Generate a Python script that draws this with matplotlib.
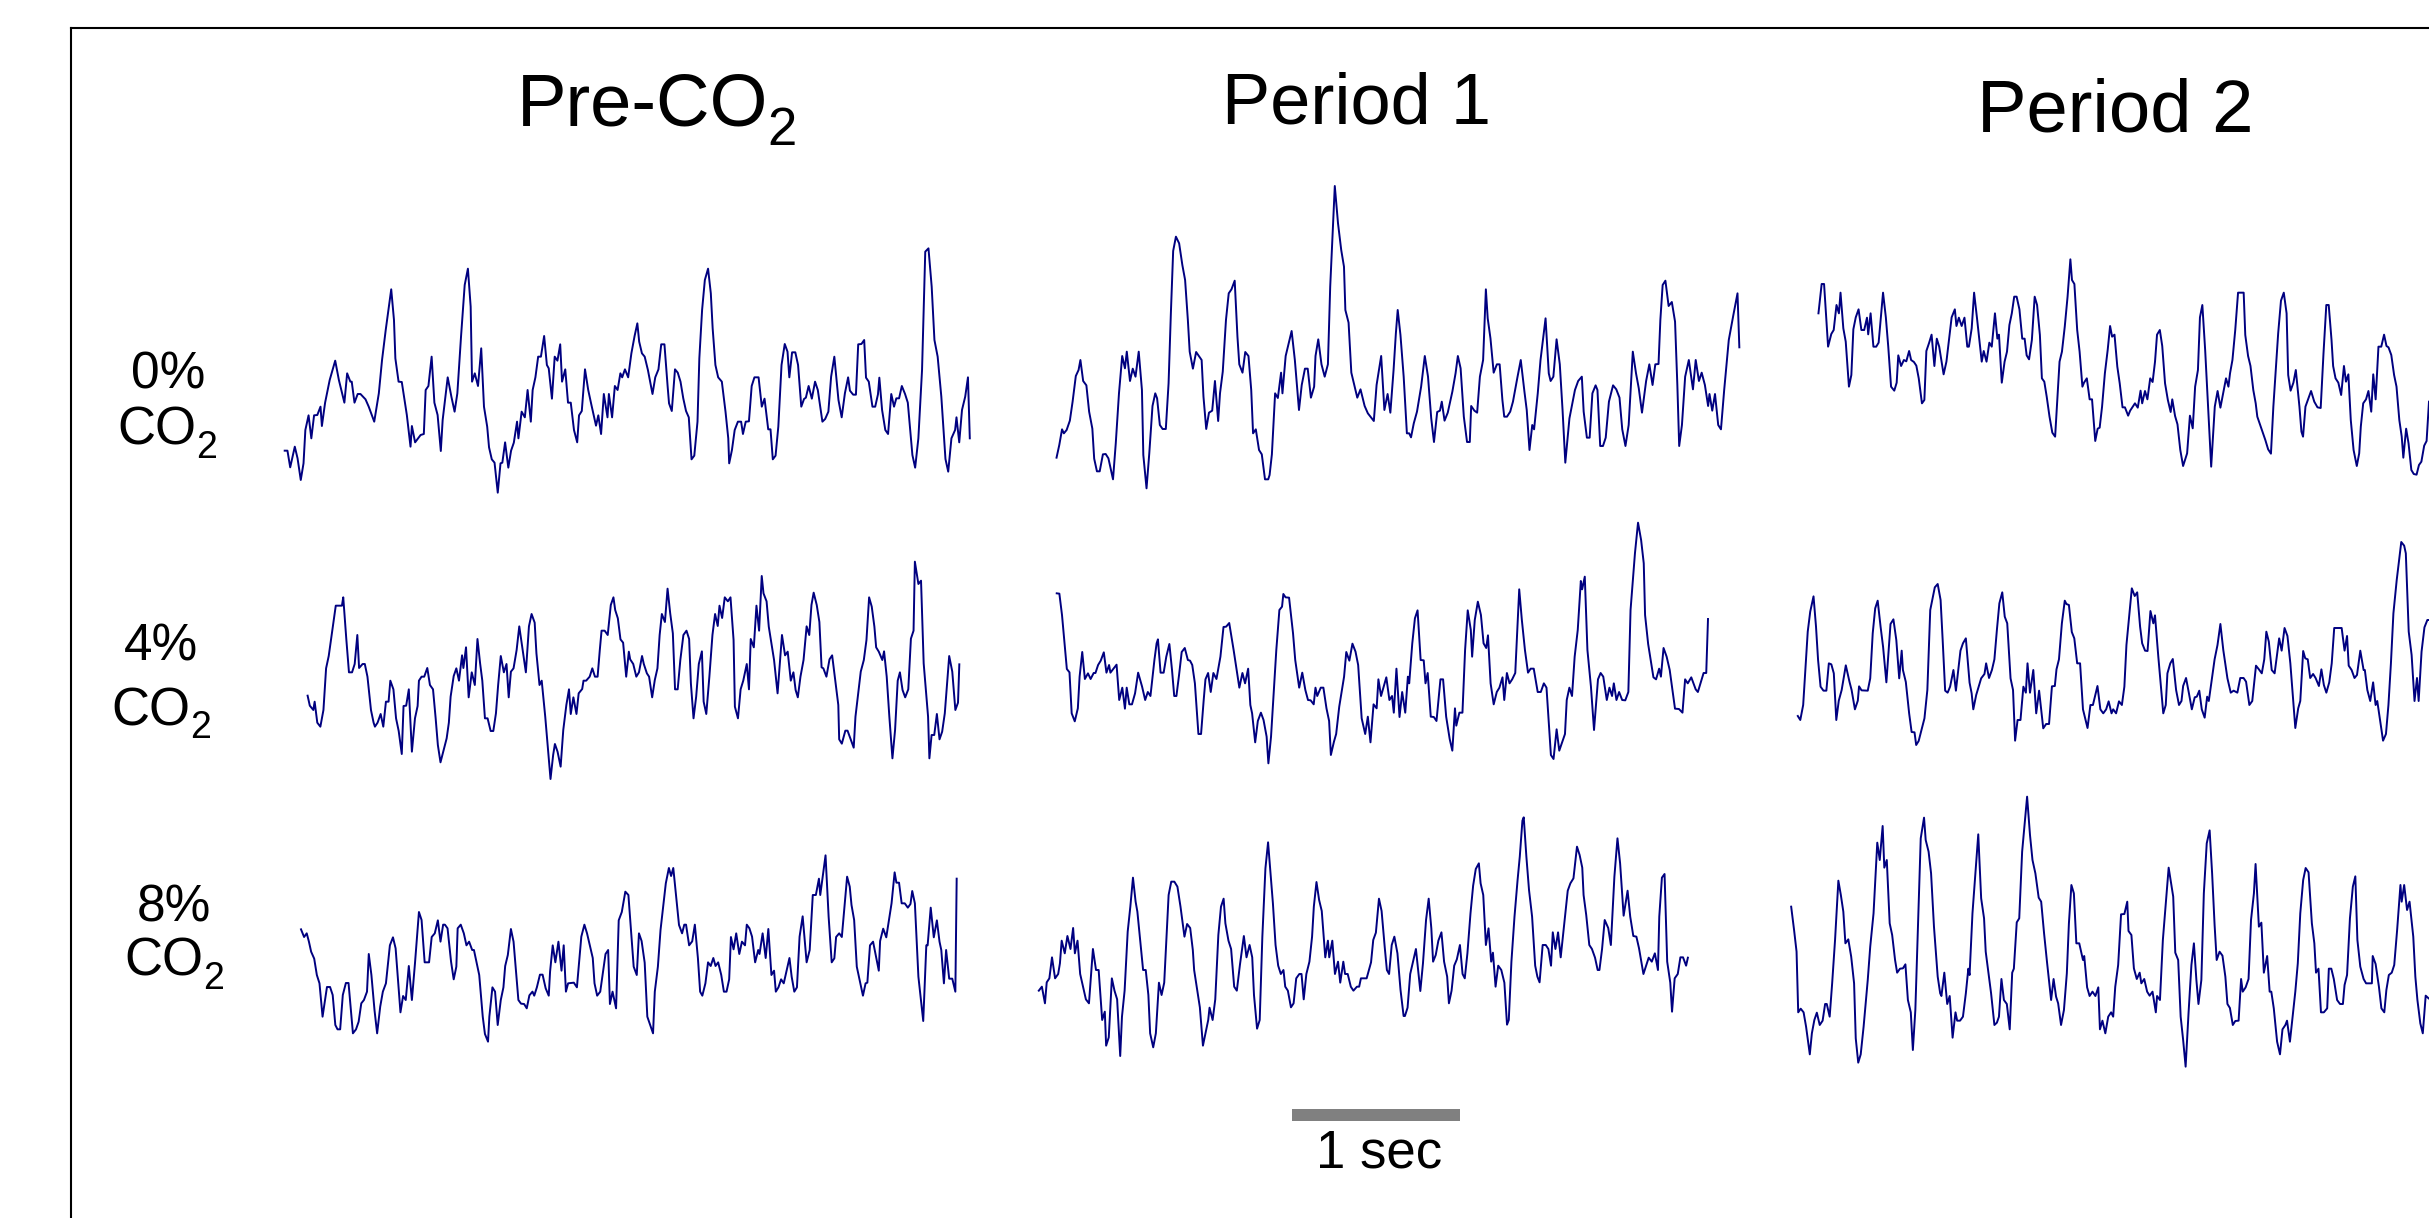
import numpy as np
import matplotlib
matplotlib.use('Agg')
import matplotlib.pyplot as plt
from matplotlib.lines import Line2D
from matplotlib.patches import Rectangle

plt.rcParams['font.family'] = ['Liberation Sans', 'DejaVu Sans']

W, H = 2429, 1218

# traces, (time, amplitude) at the turning points, amplitude axis points down
co2_0_pre = [(32,662),(38,662),(44,712),(54,650),(60,685),(67,750),(73,700),(77,600),(84,556),(90,625),(96,556),(103,555),(110,530),(113,588),(120,518),(130,450),(142,392),(150,450),(162,518),(168,430),(175,455),(178,455),(184,518),(191,492),(197,492),(208,508),(215,530),(227,575),(237,490),(244,390),(252,300),(264,178),(270,270),(273,385),(280,455),(287,456),(298,555),(306,650),(309,588),(316,637),(328,615),(335,612),(339,480),(345,468),(352,380),(358,518),(365,555),(372,663),(376,570),(387,442),(395,500),(402,545),(408,490),(416,320),(424,165),(431,116),(437,230),(440,455),(446,430),(453,468),(460,355),(466,530),(473,590),(477,652),(483,688),(489,698),(496,788),(502,700),(506,698),(512,637),(519,713),(525,662),(531,638),(538,575),(541,625),(548,545),(555,562),(561,480),(568,575),(572,480),(578,442),(584,380),(590,380),(597,318),(603,405),(607,415),(614,506),(620,380),(626,392),(632,343),(636,455),(643,418),(649,518),(655,518),(662,600),(669,637),(673,556),(679,543),(686,418),(693,480),(700,525),(710,587),(715,556),(721,612),(727,492),(735,562),(738,492),(745,562),(751,468),(757,480),(763,430),(767,442),(773,418),(780,442),(787,370),(794,318),(800,280),(804,335),(810,370),(816,380),(823,420),(833,492),(839,442),(846,418),(852,343),(859,343),(866,470),(869,520),(875,543),(882,418),(888,428),(894,455),(900,505),(906,543),(912,562),(918,688),(924,677),(931,575),(935,385),(941,240),(947,150),(954,116),(960,190),(964,295),(970,405),(976,442),(984,455),(992,545),(998,625),(1000,700),(1006,660),(1012,600),(1019,575),(1026,575),(1030,612),(1036,575),(1043,574),(1049,468),(1055,442),(1064,442),(1071,530),(1077,506),(1085,598),(1090,598),(1095,688),(1101,677),(1107,590),(1114,405),(1121,342),(1127,365),(1131,442),(1137,367),(1144,367),(1150,405),(1157,530),(1163,507),(1167,503),(1173,468),(1180,506),(1187,455),(1193,480),(1203,575),(1209,567),(1216,545),(1222,440),(1229,380),(1238,510),(1245,562),(1252,490),(1259,442),(1263,482),(1270,494),(1276,494),(1281,343),(1288,342),(1294,330),(1298,443),(1304,455),(1312,530),(1318,530),(1324,493),(1327,443),(1333,540),(1340,600),(1346,612),(1353,492),(1359,530),(1364,505),(1370,505),(1376,468),(1383,492),(1389,518),(1399,675),(1405,713),(1412,625),(1420,420),(1427,65),(1434,55),(1441,170),(1447,330),(1454,380),(1462,500),(1471,687),(1477,725),(1484,625),(1492,600),(1495,562),(1501,637),(1507,540),(1514,500),(1520,442),(1524,625)]
co2_0_p1 = [(36,863),(42,825),(48,778),(52,790),(58,780),(65,752),(71,695),(78,618),(84,600),(88,570),(94,633),(101,646),(107,725),(114,776),(118,866),(124,904),(130,904),(137,853),(143,852),(149,865),(159,928),(165,820),(172,670),(179,558),(185,595),(189,545),(196,633),(202,596),(208,620),(215,545),(222,660),(225,855),(232,955),(238,850),(245,708),(251,670),(255,685),(261,765),(267,777),(274,777),(280,640),(285,430),(290,243),(296,200),(303,220),(310,285),(316,330),(322,450),(326,545),(333,596),(340,546),(346,558),(352,570),(356,680),(362,777),(368,728),(375,722),(381,633),(388,753),(392,670),(398,605),(405,450),(411,370),(417,358),(424,332),(430,500),(434,583),(441,608),(447,546),(454,558),(460,660),(464,790),(470,778),(477,840),(483,853),(490,928),(497,928),(500,915),(505,853),(512,670),(518,684),(525,608),(528,670),(535,558),(548,483),(555,570),(564,720),(570,645),(577,596),(583,596),(590,683),(597,650),(600,558),(606,508),(613,583),(620,620),(627,583),(632,350),(637,200),(642,48),(649,160),(656,240),(662,290),(665,420),(672,458),(678,608),(691,683),(698,658),(707,708),(714,730),(727,753),(733,645),(743,558),(750,720),(757,672),(763,728),(770,600),(775,490),(779,420),(785,495),(792,620),(799,790),(804,790),(808,802),(814,760),(821,725),(830,650),(838,558),(845,620),(852,745),(858,816),(865,726),(871,722),(875,695),(881,752),(888,728),(898,665),(905,610),(910,558),(916,595),(923,740),(930,816),(936,816),(939,708),(946,722),(952,728),(958,620),(965,570),(971,358),(975,445),(981,505),(988,608),(995,583),(1001,583),(1007,690),(1011,740),(1017,740),(1024,725),(1030,695),(1040,620),(1047,570),(1055,665),(1060,720),(1066,840),(1072,765),(1076,778),(1084,670),(1090,570),(1101,445),(1108,610),(1112,633),(1118,620),(1125,508),(1132,583),(1138,720),(1144,878),(1150,790),(1153,745),(1165,660),(1172,633),(1180,620),(1184,725),(1191,803),(1197,803),(1203,670),(1210,646),(1214,660),(1220,828),(1226,828),(1232,803),(1239,695),(1248,646),(1255,658),(1262,683),(1268,778),(1275,828),(1282,765),(1291,545),(1298,610),(1304,655),(1311,728),(1320,633),(1327,583),(1334,645),(1340,583),(1347,582),(1351,450),(1356,345),(1362,332),(1369,408),(1376,396),(1383,455),(1388,645),(1392,828),(1398,765),(1405,620),(1413,570),(1422,658),(1428,570),(1435,633),(1441,608),(1448,645),(1455,708),(1458,672),(1464,722),(1470,672),(1477,765),(1483,778),(1490,660),(1500,510),(1510,435),(1519,370),(1523,532)]
co2_0_p2 = [(46,220),(54,132),(60,132),(70,320),(78,282),(84,270),(91,195),(97,220),(101,158),(108,265),(114,305),(122,440),(128,405),(133,268),(139,232),(146,208),(153,270),(160,270),(167,233),(170,283),(176,220),(183,320),(190,320),(196,308),(207,158),(214,232),(220,320),(227,440),(235,452),(241,428),(245,346),(252,378),(259,360),(265,364),(272,333),(277,360),(284,366),(290,377),(296,415),(304,490),(310,480),(315,333),(322,308),(328,284),(335,378),(341,296),(347,320),(358,403),(365,365),(378,232),(386,208),(390,258),(396,233),(403,258),(410,233),(417,320),(421,320),(428,265),(434,158),(441,232),(453,365),(458,333),(465,365),(472,308),(478,320),(486,220),(492,296),(496,284),(503,428),(510,365),(516,335),(522,255),(528,220),(534,170),(540,170),(547,208),(554,296),(560,296),(565,346),(571,358),(578,300),(585,170),(591,195),(598,285),(603,415),(609,425),(615,470),(622,530),(629,578),(636,590),(647,365),(653,335),(660,260),(667,170),(674,58),(678,120),(684,132),(691,270),(697,335),(704,440),(708,428),(715,415),(722,478),(728,478),(736,603),(742,566),(747,563),(753,500),(760,400),(767,330),(773,258),(778,290),(784,284),(791,380),(797,430),(804,502),(810,502),(818,527),(823,512),(835,490),(842,503),(849,452),(853,490),(860,453),(866,478),(873,415),(879,426),(885,365),(890,284),(897,270),(903,318),(910,430),(917,480),(924,516),(928,478),(935,528),(941,553),(948,630),(955,678),(965,640),(972,527),(979,565),(985,440),(992,390),(997,232),(1003,195),(1010,330),(1018,520),(1025,680),(1034,500),(1041,453),(1048,503),(1062,415),(1068,440),(1072,400),(1078,360),(1085,270),(1092,158),(1106,158),(1110,285),(1117,348),(1123,378),(1130,450),(1136,490),(1140,530),(1160,600),(1167,628),(1174,641),(1180,500),(1192,280),(1199,182),(1206,158),(1213,220),(1217,405),(1223,452),(1230,428),(1236,390),(1245,500),(1250,575),(1254,590),(1260,500),(1274,453),(1282,485),(1290,502),(1298,504),(1305,340),(1312,195),(1318,195),(1325,300),(1329,378),(1335,415),(1342,428),(1349,465),(1356,378),(1361,425),(1367,403),(1373,540),(1380,630),(1388,678),(1394,640),(1398,560),(1404,490),(1411,478),(1417,453),(1424,515),(1429,403),(1435,478),(1442,320),(1449,320),(1456,284),(1462,318),(1467,322),(1474,345),(1481,405),(1487,440),(1494,540),(1500,590),(1504,653),(1511,566),(1517,610),(1524,690),(1530,702),(1537,704),(1543,675),(1549,665),(1556,617),(1562,603),(1568,485)]
co2_4_pre = [(40,437),(45,467),(53,480),(56,455),(62,518),(69,530),(76,480),(82,355),(88,318),(104,167),(118,167),(121,142),(128,268),(134,367),(141,367),(147,342),(153,255),(157,354),(165,342),(170,342),(176,380),(184,480),(190,518),(193,530),(199,518),(206,492),(212,530),(218,455),(224,455),(228,392),(235,418),(241,505),(247,543),(254,612),(258,468),(264,467),(270,418),(277,605),(284,505),(290,468),(293,392),(299,380),(305,380),(312,354),(318,405),(325,418),(331,505),(336,585),(342,637),(356,565),(361,518),(365,440),(372,378),(378,355),(384,392),(391,316),(394,354),(400,292),(406,442),(413,367),(420,405),(426,267),(432,340),(437,392),(443,505),(449,505),(456,543),(462,543),(468,490),(473,405),(479,318),(486,367),(492,342),(497,442),(502,365),(508,355),(515,300),(521,229),(536,367),(543,229),(549,192),(556,218),(560,310),(567,405),(572,392),(580,500),(592,687),(598,615),(602,582),(608,605),(615,650),(621,540),(628,465),(634,418),(638,492),(644,442),(651,492),(656,430),(664,417),(667,392),(673,392),(681,380),(687,355),(693,380),(699,380),(704,300),(708,242),(715,242),(722,255),(729,165),(735,142),(739,180),(745,205),(751,268),(757,278),(764,380),(770,305),(773,328),(780,342),(787,380),(793,367),(800,318),(804,342),(811,370),(816,380),(823,442),(829,390),(835,355),(840,255),(845,192),(852,216),(858,116),(864,190),(870,250),(875,418),(881,418),(887,330),(894,255),(901,242),(907,267),(911,400),(917,505),(923,440),(929,342),(936,304),(940,455),(946,492),(953,380),(960,255),(966,192),(972,228),(976,167),(982,204),(988,142),(995,154),(1001,142),(1008,270),(1011,470),(1018,505),(1024,418),(1030,392),(1038,342),(1043,418),(1047,267),(1054,292),(1060,167),(1066,242),(1072,78),(1076,130),(1083,154),(1088,230),(1100,330),(1108,430),(1118,255),(1125,316),(1131,305),(1138,392),(1144,367),(1149,420),(1154,442),(1160,380),(1167,330),(1174,229),(1180,255),(1185,165),(1190,128),(1197,165),(1203,216),(1208,352),(1212,355),(1219,380),(1226,328),(1232,316),(1240,400),(1246,465),(1248,568),(1254,581),(1262,542),(1267,542),(1281,593),(1285,500),(1297,365),(1304,330),(1310,270),(1316,142),(1322,170),(1328,230),(1332,292),(1338,305),(1346,330),(1350,304),(1356,380),(1362,500),(1369,625),(1375,540),(1381,392),(1386,367),(1392,420),(1398,442),(1405,418),(1411,266),(1417,242),(1420,35),(1428,102),(1434,92),(1440,340),(1450,500),(1453,625),(1458,555),(1464,555),(1470,492),(1476,568),(1482,545),(1488,490),(1498,318),(1505,365),(1512,480),(1518,458),(1521,343)]
co2_4_p1 = [(38,250),(44,251),(50,315),(61,477),(67,487),(72,610),(79,634),(86,595),(90,500),(96,426),(102,507),(109,490),(115,507),(122,489),(126,489),(132,465),(138,452),(145,427),(151,488),(157,465),(160,488),(167,476),(174,464),(180,570),(187,533),(193,596),(197,533),(203,583),(209,583),(216,550),(223,488),(232,530),(239,570),(245,546),(251,558),(260,450),(265,400),(268,388),(274,488),(281,488),(287,440),(294,402),(300,480),(305,558),(310,558),(316,495),(322,426),(329,414),(336,450),(341,452),(346,465),(352,520),(360,672),(366,672),(372,570),(376,508),(382,489),(388,546),(394,489),(401,507),(410,440),(417,351),(423,350),(430,339),(440,420),(447,480),(453,533),(460,489),(466,520),(473,476),(478,585),(482,610),(489,697),(495,633),(502,608),(508,630),(515,680),(519,760),(525,680),(537,420),(544,300),(550,290),(553,252),(558,262),(566,263),(575,370),(580,450),(589,533),(596,488),(603,540),(609,570),(615,571),(622,583),(626,533),(630,558),(638,533),(644,533),(651,595),(657,633),(661,735),(668,695),(673,672),(680,590),(691,500),(696,426),(703,452),(710,401),(717,425),(723,465),(731,625),(739,672),(745,620),(751,697),(758,583),(765,595),(769,508),(775,558),(787,502),(794,570),(800,558),(804,608),(810,476),(817,621),(823,546),(830,608),(836,500),(839,520),(846,400),(852,325),(858,301),(865,450),(872,451),(876,520),(881,489),(888,620),(895,621),(901,633),(910,508),(916,508),(923,620),(931,687),(937,722),(943,595),(946,647),(953,608),(960,608),(966,420),(972,301),(979,360),(982,440),(988,330),(995,275),(1002,315),(1008,400),(1014,414),(1018,376),(1024,520),(1031,583),(1038,546),(1044,533),(1051,502),(1055,570),(1061,489),(1067,520),(1073,508),(1080,489),(1089,238),(1095,330),(1102,420),(1109,488),(1115,476),(1122,476),(1131,546),(1138,546),(1145,520),(1151,533),(1161,735),(1167,747),(1174,658),(1180,722),(1193,672),(1197,570),(1203,533),(1209,558),(1215,440),(1222,360),(1229,213),(1232,238),(1238,200),(1244,420),(1252,530),(1259,660),(1268,508),(1274,489),(1280,500),(1288,570),(1294,533),(1300,558),(1304,520),(1310,570),(1316,546),(1323,570),(1330,571),(1337,546),(1342,300),(1352,130),(1359,38),(1366,90),(1372,160),(1375,315),(1382,402),(1394,502),(1400,508),(1407,476),(1411,500),(1417,414),(1424,440),(1431,480),(1443,596),(1452,597),(1460,608),(1466,508),(1472,520),(1480,502),(1490,538),(1495,546),(1508,489),(1514,489),(1518,327)]
co2_4_p2 = [(43,558),(49,570),(56,525),(67,305),(73,245),(81,199),(87,290),(92,390),(98,470),(105,482),(112,482),(118,400),(124,403),(130,430),(136,570),(142,512),(149,480),(159,406),(168,456),(173,480),(181,538),(188,512),(191,469),(197,481),(212,482),(218,445),(224,310),(230,235),(236,212),(243,290),(249,350),(257,457),(267,282),(274,268),(281,330),(288,445),(294,362),(297,420),(304,456),(312,550),(318,606),(325,607),(329,645),(335,633),(349,565),(356,480),(363,240),(374,172),(381,162),(388,210),(393,330),(399,482),(405,488),(411,470),(419,420),(425,482),(436,362),(442,340),(449,325),(458,458),(463,490),(467,538),(474,495),(486,445),(494,432),(498,400),(505,444),(512,420),(518,388),(524,300),(530,220),(537,187),(543,260),(549,280),(557,445),(563,480),(568,632),(574,570),(581,570),(588,470),(594,488),(598,400),(604,488),(612,420),(619,550),(626,482),(636,595),(643,582),(650,582),(657,469),(664,468),(668,418),(674,388),(681,280),(688,212),(692,222),(698,225),(705,306),(711,325),(718,400),(725,400),(732,538),(743,594),(750,525),(756,525),(767,468),(774,538),(781,550),(788,538),(794,514),(801,550),(805,538),(812,550),(819,514),(826,525),(832,470),(837,345),(850,175),(857,198),(863,187),(870,290),(875,340),(882,362),(888,363),(895,243),(902,280),(906,256),(914,380),(926,550),(932,525),(936,430),(943,400),(949,387),(957,480),(964,525),(970,513),(974,468),(981,444),(988,490),(995,538),(1002,502),(1007,500),(1013,482),(1019,538),(1026,563),(1032,500),(1036,513),(1043,450),(1050,388),(1057,345),(1064,282),(1071,360),(1081,445),(1089,488),(1096,482),(1105,488),(1112,444),(1120,444),(1126,455),(1134,525),(1141,513),(1150,407),(1157,418),(1164,430),(1170,388),(1175,305),(1181,335),(1188,420),(1195,430),(1206,325),(1212,362),(1219,294),(1226,318),(1233,400),(1245,594),(1252,535),(1257,513),(1264,363),(1269,385),(1275,388),(1281,444),(1288,432),(1294,444),(1302,468),(1308,418),(1314,465),(1320,488),(1327,457),(1333,400),(1339,294),(1357,294),(1364,362),(1370,318),(1374,407),(1381,420),(1388,444),(1394,435),(1402,362),(1410,420),(1413,420),(1419,480),(1426,513),(1433,457),(1439,525),(1443,513),(1457,632),(1464,612),(1470,525),(1476,400),(1482,250),(1490,150),(1501,36),(1508,47),(1512,70),(1519,305),(1526,375),(1533,513),(1539,444),(1543,513),(1550,365),(1557,292),(1564,270),(1568,270)]
co2_8_pre = [(25,268),(32,291),(38,280),(43,305),(48,335),(55,356),(61,405),(67,430),(74,530),(84,441),(91,441),(97,465),(103,555),(108,568),(114,568),(120,465),(127,429),(133,429),(143,580),(150,568),(156,545),(162,490),(168,480),(175,455),(179,342),(185,405),(192,510),(198,580),(205,500),(211,455),(218,430),(227,316),(234,292),(240,325),(251,517),(257,468),(263,480),(270,378),(277,480),(284,370),(293,216),(299,240),(306,367),(316,367),(322,291),(329,280),(336,241),(342,305),(348,254),(352,254),(358,265),(366,365),(372,418),(378,380),(381,265),(388,254),(395,280),(401,316),(407,305),(414,330),(418,330),(430,405),(438,530),(443,582),(450,605),(453,530),(460,442),(466,455),(472,555),(479,480),(485,442),(489,378),(495,345),(502,267),(508,305),(519,480),(525,491),(532,492),(538,505),(544,466),(551,455),(555,467),(561,442),(568,404),(574,404),(581,445),(588,467),(591,395),(597,316),(603,367),(610,305),(617,392),(622,316),(627,455),(632,430),(645,428),(652,442),(662,290),(669,254),(675,280),(688,354),(692,430),(698,467),(705,455),(717,342),(723,330),(727,492),(733,455),(741,505),(747,241),(754,216),(762,155),(769,165),(781,380),(788,405),(793,280),(799,303),(806,368),(812,530),(825,580),(829,455),(836,380),(842,270),(854,130),(861,84),(866,108),(871,84),(884,255),(891,280),(896,254),(900,254),(907,316),(914,304),(920,254),(927,355),(932,455),(937,467),(944,430),(950,367),(956,378),(962,354),(967,378),(973,367),(980,405),(986,455),(992,455),(998,418),(1002,291),(1008,328),(1014,280),(1021,342),(1027,305),(1034,316),(1038,254),(1044,265),(1050,290),(1057,367),(1064,330),(1067,342),(1074,280),(1081,354),(1087,267),(1094,405),(1100,392),(1104,455),(1110,442),(1116,418),(1122,430),(1135,354),(1140,410),(1146,455),(1152,442),(1158,290),(1165,229),(1174,367),(1181,330),(1188,165),(1195,165),(1202,116),(1205,165),(1217,46),(1224,230),(1231,367),(1237,355),(1241,291),(1248,280),(1254,291),(1266,110),(1272,140),(1276,195),(1282,240),(1288,380),(1302,467),(1308,430),(1312,428),(1318,316),(1325,305),(1331,345),(1338,392),(1341,303),(1348,266),(1355,292),(1367,190),(1374,97),(1378,128),(1384,128),(1390,190),(1397,190),(1404,203),(1410,192),(1414,153),(1420,190),(1428,410),(1439,543),(1446,316),(1449,316),(1456,203),(1463,292),(1470,241),(1476,305),(1480,330),(1486,430),(1491,330),(1498,416),(1505,416),(1512,455),(1515,116)]
co2_8_p1 = [(20,572),(27,560),(34,610),(38,547),(44,535),(50,472),(57,535),(64,522),(68,490),(72,422),(79,460),(85,408),(92,447),(98,384),(102,460),(108,422),(114,522),(127,598),(134,610),(143,447),(150,510),(156,510),(164,660),(170,635),(173,737),(179,712),(186,535),(192,572),(198,598),(205,768),(209,650),(215,572),(222,395),(228,320),(234,233),(240,305),(244,335),(257,510),(263,510),(269,585),(273,700),(280,742),(286,700),(293,548),(299,585),(305,548),(315,285),(321,245),(328,245),(335,260),(342,320),(351,410),(357,372),(364,384),(370,450),(373,510),(386,622),(393,737),(405,660),(408,623),(415,660),(421,598),(428,405),(434,320),(440,296),(444,370),(451,422),(457,447),(464,560),(470,572),(477,495),(486,408),(492,472),(499,435),(505,472),(509,585),(516,686),(522,660),(528,410),(535,205),(541,127),(547,225),(552,310),(558,435),(564,497),(570,522),(576,510),(580,560),(586,572),(593,622),(599,610),(605,535),(612,522),(617,522),(622,598),(628,522),(635,485),(641,410),(645,320),(651,246),(657,300),(663,333),(671,472),(677,422),(680,472),(687,422),(693,522),(700,485),(705,548),(712,485),(716,522),(722,522),(729,560),(735,572),(743,560),(748,560),(752,535),(765,535),(775,487),(780,420),(786,398),(793,296),(799,333),(806,440),(811,510),(816,522),(822,435),(828,410),(835,460),(842,570),(849,648),(852,648),(858,623),(864,522),(877,447),(887,573),(893,490),(900,360),(906,296),(912,385),(916,485),(922,465),(928,422),(935,397),(941,485),(948,530),(952,610),(958,572),(964,497),(970,478),(977,435),(983,522),(988,535),(994,460),(1001,340),(1007,257),(1013,207),(1020,190),(1024,250),(1030,285),(1036,435),(1042,385),(1048,485),(1052,458),(1058,560),(1064,497),(1071,510),(1078,548),(1084,674),(1088,660),(1094,485),(1101,350),(1108,240),(1113,170),(1119,62),(1122,52),(1128,170),(1134,270),(1141,350),(1148,497),(1153,530),(1158,547),(1165,435),(1172,435),(1178,447),(1184,497),(1188,397),(1194,447),(1200,397),(1206,472),(1213,385),(1222,272),(1228,250),(1235,235),(1243,140),(1249,165),(1255,203),(1258,285),(1264,345),(1271,435),(1277,447),(1284,473),(1290,510),(1294,510),(1300,447),(1306,360),(1314,384),(1320,435),(1328,230),(1335,115),(1341,190),(1349,347),(1358,272),(1364,350),(1371,408),(1378,410),(1384,445),(1394,522),(1400,497),(1406,473),(1413,485),(1420,460),(1427,510),(1430,350),(1436,233),(1442,222),(1448,485),(1455,548),(1459,635),(1465,535),(1472,522),(1478,472),(1484,472),(1491,497),(1495,473)]
co2_8_p2 = [(27,380),(34,450),(40,515),(44,697),(50,686),(57,697),(63,740),(72,823),(77,760),(83,720),(89,698),(96,735),(103,722),(109,672),(113,672),(120,710),(126,610),(133,480),(141,302),(147,345),(153,395),(158,490),(165,478),(172,530),(179,610),(183,775),(189,848),(195,823),(202,740),(212,600),(218,500),(226,400),(235,188),(241,240),(248,138),(252,263),(258,240),(265,430),(271,465),(278,540),(283,578),(290,566),(297,565),(303,553),(309,660),(316,697),(321,810),(327,690),(333,450),(340,175),(348,113),(352,180),(359,215),(365,280),(372,440),(381,590),(387,640),(390,648),(397,578),(404,672),(410,648),(417,773),(424,697),(428,722),(435,722),(442,710),(449,640),(455,566),(458,585),(465,400),(479,163),(486,355),(493,415),(497,515),(510,640),(518,735),(524,728),(529,710),(535,597),(541,660),(548,672),(555,748),(561,578),(565,566),(572,427),(578,415),(585,215),(597,50),(604,165),(610,240),(617,280),(625,353),(631,365),(638,460),(645,545),(655,660),(661,597),(667,650),(672,670),(679,735),(686,690),(693,580),(698,430),(704,315),(710,340),(716,490),(723,490),(732,540),(735,528),(742,622),(748,648),(755,635),(762,648),(769,622),(773,748),(779,722),(786,760),(793,710),(800,697),(805,710),(810,620),(817,555),(824,403),(832,402),(839,365),(842,453),(849,465),(855,565),(862,597),(869,578),(873,610),(880,597),(887,635),(893,647),(900,635),(908,697),(911,648),(918,660),(925,480),(939,263),(950,350),(955,518),(962,540),(968,710),(974,780),(980,860),(987,700),(994,555),(1000,490),(1006,600),(1011,672),(1018,600),(1024,340),(1031,190),(1038,151),(1044,280),(1050,435),(1055,540),(1062,515),(1069,527),(1076,590),(1081,672),(1087,684),(1094,735),(1100,723),(1108,722),(1114,597),(1118,635),(1125,622),(1132,597),(1138,420),(1145,340),(1149,252),(1157,440),(1163,428),(1169,578),(1177,528),(1183,635),(1187,635),(1193,685),(1201,785),(1208,823),(1214,748),(1221,735),(1225,722),(1232,785),(1245,635),(1251,550),(1257,400),(1264,300),(1270,264),(1277,277),(1285,430),(1291,490),(1295,578),(1301,566),(1307,697),(1314,697),(1322,685),(1326,566),(1332,566),(1338,597),(1346,660),(1353,672),(1360,672),(1364,615),(1370,585),(1377,415),(1384,320),(1390,289),(1395,480),(1402,560),(1410,597),(1416,610),(1430,610),(1432,528),(1439,552),(1447,620),(1453,685),(1460,697),(1465,630),(1471,585),(1478,578),(1484,555),(1491,450),(1499,315),(1502,365),(1508,315),(1515,390),(1521,365),(1530,470),(1535,590),(1540,660),(1547,730),(1553,760),(1560,647),(1567,655)]

traces = [co2_0_pre, co2_0_p1, co2_0_p2, co2_4_pre, co2_4_p1, co2_4_p2, co2_8_pre, co2_8_p1, co2_8_p2]

# where each trace goes on the page: left, top, width, height in pixels
boxes = [(270, 230, 720, 270), (1040, 170, 720, 330), (1800, 240, 629, 250),
         (290, 550, 690, 240), (1040, 510, 690, 260), (1780, 530, 649, 220),
         (290, 840, 690, 210), (1030, 800, 690, 270), (1780, 780, 649, 300)]

fig = plt.figure(figsize=(W / 100, H / 100), dpi=100, facecolor='white')

for tr, (l, t, w, h) in zip(traces, boxes):
    ax = fig.add_axes([l / W, 1 - (t + h) / H, w / W, h / H])
    arr = np.array(tr)
    ax.plot(arr[:, 0], arr[:, 1], color='#000080', lw=1.4)
    ax.set_xlim(0, 1568)
    ax.set_ylim(3 * h, 0)
    ax.axis('off')


def label(x, y, s, size, ha='left'):
    # x, y in pixels, y is the text baseline
    fig.text(x / W, 1 - y / H, s, fontsize=size, ha=ha, va='baseline', color='black')


# column titles
label(517, 126, 'Pre-CO', 53.5)
label(767, 145, '2', 38)
label(1357, 123, 'Period 1', 52, ha='center')
label(2115, 131, 'Period 2', 53.5, ha='center')

# row labels
label(131, 388, '0%', 37)
label(117, 445, 'CO', 38)
label(196, 458, '2', 27)
label(124, 661, '4%', 37)
label(111, 725, 'CO', 38)
label(190, 738, '2', 27)
label(137, 922, '8%', 37)
label(124, 975, 'CO', 38)
label(203, 989, '2', 27)

# scale bar
fig.add_artist(Rectangle((1292 / W, 1 - 1121 / H), 168 / W, 12 / H, transform=fig.transFigure, color='#808080', lw=0))
label(1379, 1168, '1 sec', 38, ha='center')

# frame runs off the right and bottom edges
fig.add_artist(Line2D([71 / W, 71 / W], [0, 1 - 28 / H], color='black', lw=1.5))
fig.add_artist(Line2D([71 / W, 1], [1 - 28 / H, 1 - 28 / H], color='black', lw=1.5))

fig.savefig('out.png', dpi=100)
